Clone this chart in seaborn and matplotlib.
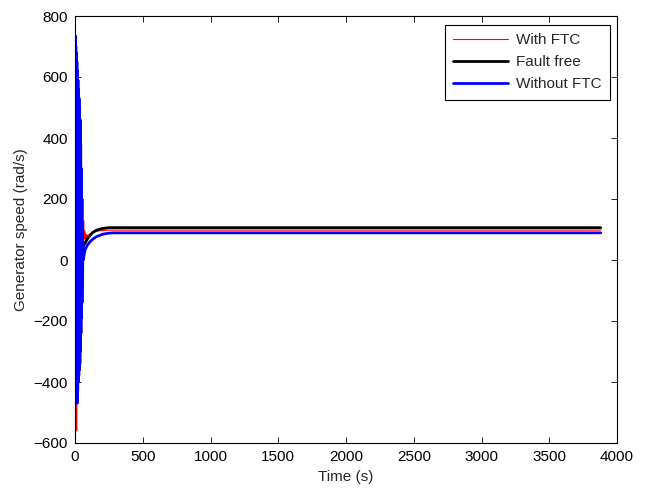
import pandas as pd
import seaborn as sns
import matplotlib
matplotlib.use('Agg')
import matplotlib.pyplot as plt

# Tempo (s) e velocidade do gerador (rad/s)
t_with = [0, 2, 4, 6, 8, 10, 12, 14, 16, 18, 20, 22, 24, 26, 28, 30, 32, 34, 36, 38,
          40, 42, 44, 46, 48, 50, 52, 54, 56, 58, 60, 64, 68, 72, 76, 80, 85, 90,
          100, 110, 120, 140, 170, 210, 260, 320, 3880]
with_ftc = [0, 760, -300, 700, -400, 640, -560, 600, -450, 560, -380, 500, -330, 460,
            -280, 420, -220, 380, -170, 350, -120, 320, -80, 290, -40, 260, 0, 220,
            40, 200, 90, 130, 70, 95, 62, 85, 70, 80, 82, 86, 88, 92, 95, 97, 98, 98, 98]

t_free = [0, 10, 20, 30, 40, 50, 60, 80, 100, 130, 160, 200, 250, 300, 3880]
fault_free = [450, 300, 200, 140, 90, 55, 45, 60, 75, 90, 98, 103, 106, 106, 106]

t_without = [0, 2, 4, 6, 8, 10, 12, 14, 16, 18, 20, 22, 24, 26, 28, 30, 32, 34, 36, 38,
             40, 42, 44, 46, 48, 50, 52, 54, 56, 58, 60, 74, 90, 111, 130, 160, 209,
             250, 283, 3880]
without_ftc = [0, 735, -380, 700, -420, 680, -450, 650, -470, 620, -430, 590, -400, 560,
               -380, 530, -360, 500, -340, 460, -300, 380, -240, 300, -190, 200, -140,
               120, -90, 60, 0, 33, 48, 60, 68, 77, 85, 88, 89, 89]

df_with = pd.DataFrame({'t': t_with, 'v': with_ftc})
df_free = pd.DataFrame({'t': t_free, 'v': fault_free})
df_without = pd.DataFrame({'t': t_without, 'v': without_ftc})

sns.set_style('ticks')
plt.rcParams['font.family'] = ['Liberation Sans', 'DejaVu Sans']
plt.rcParams['font.size'] = 11

fig = plt.figure(figsize=(6.46, 4.88), dpi=100)
ax = fig.add_axes([75 / 646, 1 - 443 / 488, 542 / 646, 427 / 488])

sns.lineplot(data=df_with, x='t', y='v', color='red', linewidth=0.8,
             estimator=None, sort=False, label='With FTC', ax=ax)
sns.lineplot(data=df_free, x='t', y='v', color='black', linewidth=2,
             estimator=None, sort=False, label='Fault free', ax=ax)
sns.lineplot(data=df_without, x='t', y='v', color='blue', linewidth=2,
             estimator=None, sort=False, label='Without FTC', ax=ax)

ax.set_xlim(0, 4000)
ax.set_ylim(-600, 800)
ax.set_xticks(range(0, 4001, 500))
ax.set_yticks(range(-600, 801, 200))
ax.tick_params(direction='in', top=True, right=True, length=4, width=0.6,
               colors='black', pad=5)
for s in ax.spines.values():
    s.set_linewidth(0.8)
    s.set_color('black')

ax.set_xlabel('Time (s)', labelpad=4)
ax.set_ylabel('Generator speed (rad/s)', labelpad=4)

leg = ax.legend(loc='upper right', bbox_to_anchor=(0.987, 0.979), fancybox=False,
                edgecolor='black', framealpha=1, handlelength=3.6, borderaxespad=0,
                labelspacing=0.52, borderpad=0.55, handletextpad=0.5)
leg.get_frame().set_linewidth(0.8)

plt.savefig('out.png', dpi=100)
